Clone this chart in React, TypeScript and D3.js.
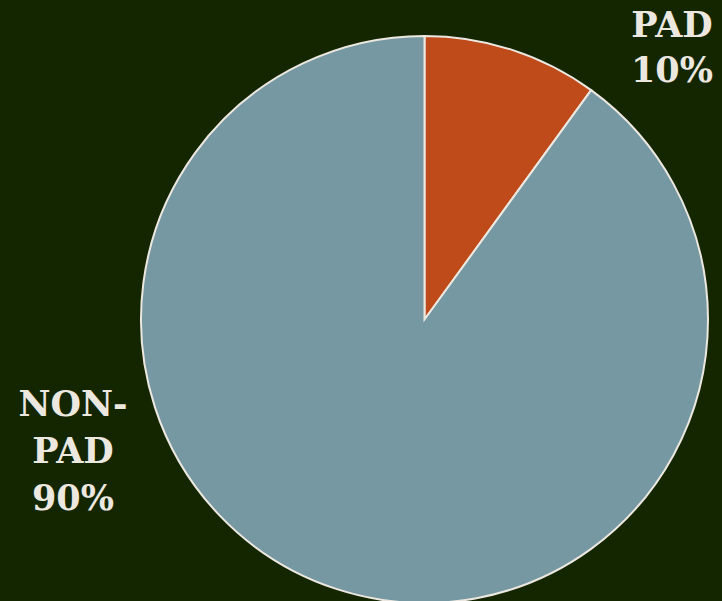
import React from "react";
import * as d3 from "d3";

const categories = ["PAD", "NON-PAD"];
const values = [10, 90];
const labelLines = [["PAD", "10%"], ["NON-", "PAD", "90%"]];
const colors = ["#BF4A1A", "#7698A3"];

const W = 722;
const H = 601;

export default function App() {
  const cx = 424.5;
  const cy = 319.5;
  const r = 283.5;
  const pie = d3.pie<number>().sort(null).value((d) => d)(values);
  const arc = d3.arc<d3.PieArcDatum<number>>().innerRadius(0).outerRadius(r);
  const labelPos = [
    { x: 672, y: 37 },
    { x: 73, y: 416 },
  ];
  const lineH = [45, 47];
  return (
    <svg
      width={W}
      height={H}
      style={{ position: "absolute", left: 0, top: 0, background: "#132600" }}
    >
      <rect x={0} y={0} width={W} height={H} fill="#132600" />
      <g transform={`translate(${cx},${cy})`}>
        {pie.map((p, i) => (
          <path
            key={categories[i]}
            d={arc(p) || ""}
            fill={colors[i]}
            stroke="#ECE8E0"
            strokeWidth={2}
          />
        ))}
      </g>
      {labelLines.map((lines, i) => (
        <text
          key={i}
          textAnchor="middle"
          fill="#ECE8E0"
          fontFamily="'DejaVu Serif', serif"
          fontWeight="bold"
          fontSize={35}
        >
          {lines.map((t, j) => (
            <tspan key={j} x={labelPos[i].x} y={labelPos[i].y + j * lineH[i]}>
              {t}
            </tspan>
          ))}
        </text>
      ))}
    </svg>
  );
}
